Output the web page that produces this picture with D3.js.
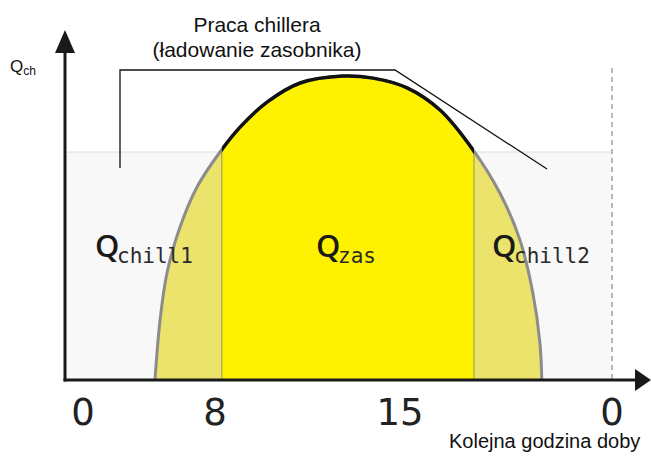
<!DOCTYPE html>
<html>
<head>
<meta charset="utf-8">
<script src="https://cdn.jsdelivr.net/npm/d3@7"></script>
<style>
	body { margin: 0; background: #fff; }
</style>
</head>
<body>
<div id="chart-area"></div>
<script>
// DATA
var tickHours = [0, 8, 15, 24];
var tickLabels = ["0", "8", "15", "0"];

// cooling demand over the day (hour, % of peak)
var demandHours = [4.36, 4.67, 5.09, 5.88, 6.91, 8.19, 8.95, 9.97, 11.22, 12.84,
	13.98, 15.3, 16.7, 18.1, 19.24, 20.09, 20.64, 20.94, 21.02];
var demandValues = [0, 19.7, 35.2, 50.3, 63.5, 75, 83.2, 91.4, 97.7, 100,
	99.3, 96.1, 88.8, 75.7, 61.5, 46.1, 28.6, 12.2, 0];

var chillerCapacity = 75;
var storageHours = [8.26, 18.14];

var regionNames = ["chill1", "zas", "chill2"];
var titleLines = ["Praca chillera", "(ładowanie zasobnika)"];

var width = 651,
	height = 457;

var svg = d3.select("#chart-area")
	.append("svg")
	.attr("width", width)
	.attr("height", height);

// SCALES
var x = d3.scaleLinear()
	.domain(tickHours)
	.range([83, 215, 400, 612]);

var y = d3.scaleLinear()
	.domain([0, 100])
	.range([380, 76]);

var axisX = 65;

var demand = demandHours.map(function (h, i) {
	return { h: h, v: demandValues[i] };
});

var line = d3.line()
	.x(function (d) { return x(d.h); })
	.y(function (d) { return y(d.v); })
	.curve(d3.curveCatmullRom.alpha(0.5));

var area = d3.area()
	.x(function (d) { return x(d.h); })
	.y0(y(0))
	.y1(function (d) { return y(d.v); })
	.curve(d3.curveCatmullRom.alpha(0.5));

// clip for the storage charging window
svg.append("defs").append("clipPath")
	.attr("id", "storage-clip")
	.append("rect")
	.attr("x", x(storageHours[0]))
	.attr("y", 0)
	.attr("width", x(storageHours[1]) - x(storageHours[0]))
	.attr("height", height);

// CHILLER CAPACITY BOX
svg.append("rect")
	.attr("x", axisX)
	.attr("y", y(chillerCapacity))
	.attr("width", x(24) - axisX)
	.attr("height", y(0) - y(chillerCapacity))
	.attr("fill", "#f8f8f8");

svg.append("line")
	.attr("x1", axisX)
	.attr("x2", x(24))
	.attr("y1", y(chillerCapacity))
	.attr("y2", y(chillerCapacity))
	.attr("stroke", "#dedede")
	.attr("stroke-width", 1);

// end of day
svg.append("line")
	.attr("x1", x(24))
	.attr("x2", x(24))
	.attr("y1", 68)
	.attr("y2", y(0))
	.attr("stroke", "#777")
	.attr("stroke-width", 1)
	.attr("stroke-dasharray", "5,4");

// AREAS
svg.append("path")
	.datum(demand)
	.attr("d", area)
	.attr("fill", "#ebe36b");

svg.append("path")
	.datum(demand)
	.attr("d", area)
	.attr("fill", "#fff200")
	.attr("clip-path", "url(#storage-clip)");

storageHours.forEach(function (h) {
	svg.append("line")
		.attr("x1", x(h))
		.attr("x2", x(h))
		.attr("y1", y(chillerCapacity))
		.attr("y2", y(0))
		.attr("stroke", "#9a9660")
		.attr("stroke-width", 1);
});

svg.append("path")
	.datum(demand)
	.attr("d", line)
	.attr("fill", "none")
	.attr("stroke", "#8c8c8c")
	.attr("stroke-width", 3);

svg.append("path")
	.datum(demand)
	.attr("d", line)
	.attr("fill", "none")
	.attr("stroke", "#111")
	.attr("stroke-width", 3.5)
	.attr("clip-path", "url(#storage-clip)");

// CALLOUT
svg.append("polyline")
	.attr("points", "120,168 120,70 395,70 547,169")
	.attr("fill", "none")
	.attr("stroke", "#111")
	.attr("stroke-width", 1.3);

svg.selectAll(".title")
	.data(titleLines)
	.enter()
	.append("text")
	.attr("class", "title")
	.attr("x", 257)
	.attr("y", function (d, i) { return 32 + i * 25; })
	.attr("text-anchor", "middle")
	.attr("font-family", "Liberation Sans, Arial, sans-serif")
	.attr("font-size", "21px")
	.attr("fill", "#111")
	.text(function (d) { return d; });

// AXES
svg.append("line")
	.attr("x1", axisX)
	.attr("x2", axisX)
	.attr("y1", y(0) + 1.5)
	.attr("y2", 50)
	.attr("stroke", "#1a1a1a")
	.attr("stroke-width", 3);

svg.append("path")
	.attr("d", "M" + axisX + ",30 L" + (axisX + 10) + ",53 L" + (axisX - 10) + ",53 Z")
	.attr("fill", "#1a1a1a");

svg.append("line")
	.attr("x1", axisX - 1.5)
	.attr("x2", 638)
	.attr("y1", y(0))
	.attr("y2", y(0))
	.attr("stroke", "#1a1a1a")
	.attr("stroke-width", 3);

svg.append("path")
	.attr("d", "M651," + y(0) + " L635," + (y(0) - 11) + " L635," + (y(0) + 11) + " Z")
	.attr("fill", "#1a1a1a");

// tick labels
svg.selectAll(".tick-label")
	.data(tickHours)
	.enter()
	.append("text")
	.attr("class", "tick-label")
	.attr("x", function (d) { return x(d); })
	.attr("y", 425)
	.attr("text-anchor", "middle")
	.attr("font-family", "DejaVu Sans, sans-serif")
	.attr("font-size", "37px")
	.attr("fill", "#222")
	.text(function (d, i) { return tickLabels[i]; });

svg.append("text")
	.attr("x", 449)
	.attr("y", 448)
	.attr("font-family", "Liberation Sans, Arial, sans-serif")
	.attr("font-size", "20px")
	.attr("fill", "#111")
	.text("Kolejna godzina doby");

// Q_ch axis label
var yLabel = svg.append("text")
	.attr("x", 10)
	.attr("y", 72)
	.attr("font-family", "Liberation Sans, Arial, sans-serif")
	.attr("fill", "#111");
yLabel.append("tspan")
	.attr("font-size", "17px")
	.text("Q");
yLabel.append("tspan")
	.attr("font-size", "12px")
	.attr("dy", 3)
	.text("ch");

// REGION LABELS
var labelX = [95, 316, 492];
regionNames.forEach(function (name, i) {
	svg.append("text")
		.attr("x", labelX[i])
		.attr("y", 257)
		.attr("font-family", "Open Sans, sans-serif")
		.attr("font-weight", 600)
		.attr("font-size", "31px")
		.attr("fill", "#1a1a1a")
		.text("Q");
	svg.append("text")
		.attr("x", labelX[i] + 22)
		.attr("y", 263)
		.attr("font-family", "DejaVu Sans Mono, monospace")
		.attr("font-size", "21px")
		.attr("fill", "#2a2a2a")
		.text(name);
});
</script>
</body>
</html>
